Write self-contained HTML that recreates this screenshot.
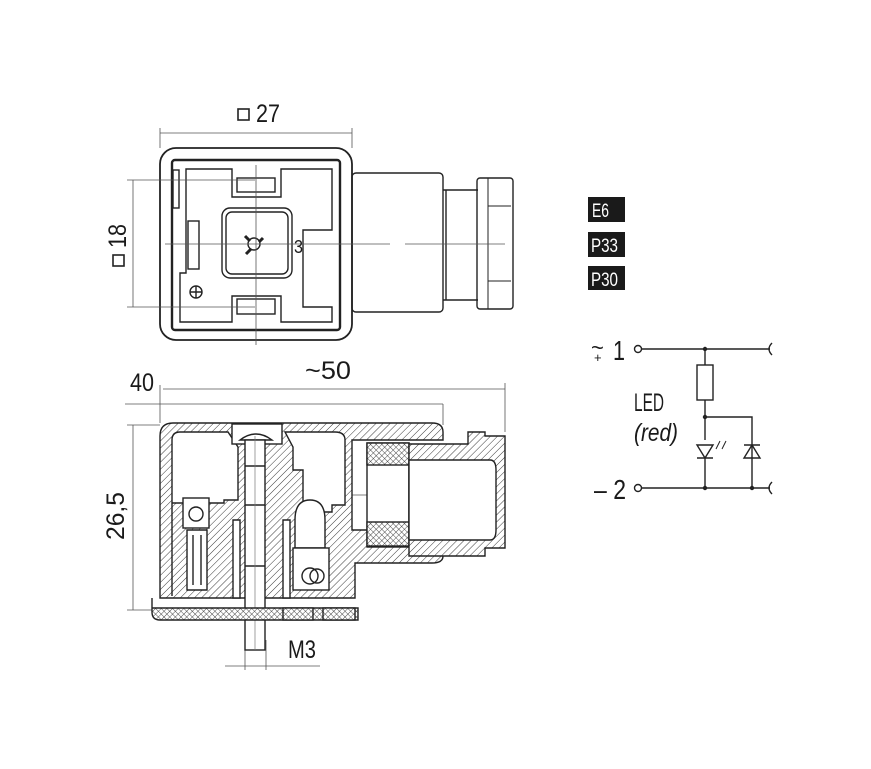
<!DOCTYPE html>
<html><head><meta charset="utf-8"><style>
html,body{margin:0;padding:0;background:#fff}
svg{display:block}
text{font-family:"Liberation Sans",sans-serif;fill:#1a1a1a}
</style></head><body>
<svg width="871" height="769" viewBox="0 0 871 769" xmlns="http://www.w3.org/2000/svg">
<defs>
<pattern id="h" width="5" height="5" patternUnits="userSpaceOnUse" patternTransform="rotate(45)"><rect width="5" height="5" fill="#fff"/><line x1="0" y1="0" x2="0" y2="5" stroke="#222" stroke-width="0.9"/></pattern>
<pattern id="x" width="4" height="4" patternUnits="userSpaceOnUse" patternTransform="rotate(45)"><rect width="4" height="4" fill="#fff"/><line x1="0" y1="0" x2="0" y2="4" stroke="#222" stroke-width="0.8"/><line x1="0" y1="0" x2="4" y2="0" stroke="#222" stroke-width="0.8"/></pattern>
</defs>
<g fill="none" stroke="#222" stroke-width="1.4">
<!-- TOP VIEW -->
<rect x="160" y="148" width="192" height="192" rx="16" stroke-width="1.8"/>
<rect x="172" y="160" width="168" height="170" rx="3" stroke-width="2.4"/>
<path d="M186 169 H232 V197 H281 V169 H332 V230 H303 V307 H332 V322 H281 V296 H232 V322 H180 V273 H186 Z"/>
<rect x="173" y="170" width="6" height="38"/>
<rect x="188" y="221" width="11" height="48"/>
<rect x="222" y="208" width="70" height="70" rx="8"/>
<rect x="226" y="212" width="62" height="62" rx="6"/>
<circle cx="254" cy="244" r="6"/>
<path d="M245 236 l5 5 M263 238 l-4 4 M246 254 l5 -5" stroke-width="3"/>
<rect x="237" y="178" width="38" height="14"/>
<rect x="237" y="299" width="38" height="15"/>
<circle cx="196" cy="292" r="6"/><path d="M190 292 h12 M196 286 v12"/>
<rect x="352" y="173" width="91" height="139" rx="4"/>
<path d="M443 190 H478 M443 300 H478 M446 190 V300"/>
<rect x="477" y="178" width="36" height="131" rx="3"/>
<path d="M488 178 V309 M488 206 H511 M488 281 H511" stroke-width="1"/>
<g stroke="#555" stroke-width="0.8">
<path d="M165 244 H390 M405 244 H505"/>
<path d="M256 165 V345"/>
<path d="M160 128 V148 M352 128 V148 M160 133 H352"/>
<path d="M127 180 H255 M127 307 H255 M133 180 V307"/>
</g>
<!-- SECTION VIEW -->
<g stroke="#555" stroke-width="0.8">
<path d="M160 385 V423 M163 389 H505 M505 383 V432 M125 404 H443 M443 404 V425"/>
<path d="M127 425 H160 M127 610 H155 M133 425 V610"/>
<path d="M225 666 H320 M245 640 V670 M266 640 V670"/>
<path d="M330 495 H425 M440 495 H500"/>
</g>
<path d="M160 436 Q160 423 173 423 H432 Q443 423 443 432 V440 H352 V530 H443 V556 Q443 563 432 563 H355 V598 H160 Z" fill="url(#h)"/>
<path d="M172 596 V440 Q172 432 180 432 H228 L238 447 V500 H224 V503 H172 Z" fill="#fff"/>
<path d="M285 432 H335 Q345 432 345 440 V505 H332 V512 H303 V470 H293 V447 Z" fill="#fff"/>
<rect x="183" y="498" width="26" height="30" fill="#fff"/>
<circle cx="196" cy="514" r="7"/>
<path d="M187 530 H207 V590 H187 Z" fill="#fff"/>
<path d="M193 535 V585 M201 535 V585"/>
<path d="M233 520 L240 520 L240 598 H233 Z M290 520 L283 520 L283 598 H290 Z" fill="#fff"/>
<path d="M295 520 Q295 500 310 500 Q325 500 325 520 V548 H295 Z" fill="#fff"/>
<rect x="293" y="548" width="36" height="42" fill="#fff"/>
<circle cx="310" cy="576" r="8"/><circle cx="317" cy="576" r="7"/>
<rect x="232" y="424" width="50" height="20" fill="#fff"/>
<path d="M240 440 Q256 428 272 440 Z" fill="#fff"/>
<rect x="245" y="440" width="20" height="210" fill="#fff"/>
<path d="M245 466 H265 M245 505 H265 M245 566 H265"/>
<path d="M255 436 V650" stroke="#777" stroke-width="0.7"/>
<path d="M152 598 V608 H358 V620 H160 Q152 620 152 612 Z" fill="url(#x)"/>
<path d="M152 608 H245 M265 608 H358" stroke-width="1"/>
<rect x="283" y="608" width="30" height="12" fill="url(#x)"/>
<rect x="323" y="608" width="32" height="12" fill="url(#x)"/>
<rect x="367" y="443" width="42" height="104" fill="#fff"/>
<rect x="367" y="443" width="42" height="22" fill="url(#x)"/>
<rect x="367" y="522" width="42" height="24" fill="url(#x)"/>
<path d="M409 444 H468 V432 H485 V436 H505 V548 H485 V556 H468 V556 H409 Z" fill="url(#h)"/>
<path d="M409 460 H490 Q496 460 496 470 V530 Q496 540 490 540 H409 Z" fill="#fff"/>
<!-- CIRCUIT -->
<path d="M642 349 H770 M642 488 H770 M705 349 V365 M705 400 V440 M705 458 V488 M705 417 H752 V488"/>
<circle cx="638" cy="349" r="3.5"/><circle cx="638" cy="488" r="3.5"/>
<path d="M772 343 Q766 349 772 355 M772 482 Q766 488 772 494"/>
<rect x="697" y="365" width="16" height="35"/>
<path d="M697 445 H713 L705 458 Z M697 458 H713"/>
<path d="M744 458 H760 L752 445 Z M744 445 H760"/>
<path d="M716 449 l4 -8 M722 449 l4 -8" stroke-width="1"/>
</g>
<g fill="#222"><circle cx="705" cy="349" r="2.2"/><circle cx="705" cy="417" r="2.2"/><circle cx="705" cy="488" r="2.2"/><circle cx="752" cy="488" r="2.2"/></g>
<!-- labels -->
<rect x="238" y="109" width="11" height="11" fill="none" stroke="#222" stroke-width="1.6"/>
<text x="256" y="122" font-size="25" textLength="24" lengthAdjust="spacingAndGlyphs">27</text>
<g transform="translate(125,244) rotate(-90)"><rect x="-22" y="-12" width="11" height="11" fill="none" stroke="#222" stroke-width="1.6"/><text x="-4" y="1" font-size="25" textLength="24" lengthAdjust="spacingAndGlyphs">18</text></g>
<text x="294" y="253" font-size="18" textLength="9" lengthAdjust="spacingAndGlyphs">3</text>
<text x="130" y="391" font-size="25" textLength="24" lengthAdjust="spacingAndGlyphs">40</text>
<text x="305" y="379" font-size="25" textLength="46" lengthAdjust="spacingAndGlyphs">~50</text>
<text transform="translate(124,540) rotate(-90)" font-size="25" textLength="48" lengthAdjust="spacingAndGlyphs">26,5</text>
<text x="288" y="658" font-size="25" textLength="28" lengthAdjust="spacingAndGlyphs">M3</text>
<rect x="588" y="197" width="37" height="25" fill="#1a1a1a"/><text x="592" y="217" font-size="19" textLength="17" lengthAdjust="spacingAndGlyphs" style="fill:#fff">E6</text>
<rect x="588" y="232" width="37" height="25" fill="#1a1a1a"/><text x="591" y="252" font-size="19" textLength="27" lengthAdjust="spacingAndGlyphs" style="fill:#fff">P33</text>
<rect x="588" y="266" width="37" height="24" fill="#1a1a1a"/><text x="591" y="286" font-size="19" textLength="27" lengthAdjust="spacingAndGlyphs" style="fill:#fff">P30</text>
<text x="591" y="355" font-size="22">~</text><text x="594" y="362" font-size="13">+</text>
<text x="613" y="360" font-size="28" textLength="12" lengthAdjust="spacingAndGlyphs">1</text>
<text x="594" y="499" font-size="28" textLength="32" lengthAdjust="spacingAndGlyphs">– 2</text>
<text x="634" y="411" font-size="25" textLength="30" lengthAdjust="spacingAndGlyphs">LED</text>
<text x="634" y="441" font-size="25" font-style="italic" textLength="44" lengthAdjust="spacingAndGlyphs">(red)</text>
</svg>
</body></html>
